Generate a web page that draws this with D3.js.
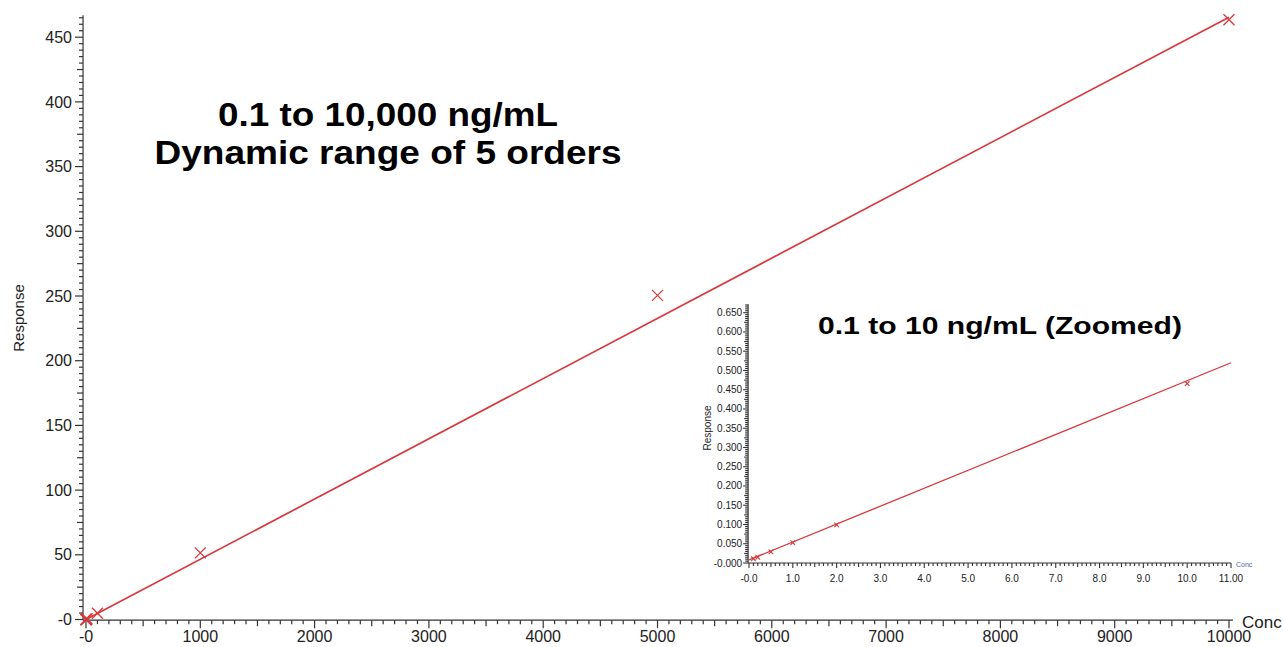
<!DOCTYPE html>
<html>
<head>
<meta charset="utf-8">
<script src="https://cdn.jsdelivr.net/npm/d3@7"></script>
<style>
  html, body { margin: 0; padding: 0; background: #fff; }
  svg { display: block; font-family: "Liberation Sans", Arial, Helvetica, sans-serif; }
</style>
</head>
<body>
<svg id="chart" width="1283" height="647"></svg>
<script>
// ---- data ----
const conc = [0.1, 0.2, 0.5, 1, 2, 10, 100, 1000, 5000, 10000];
const response = [0.011, 0.015, 0.029, 0.053, 0.099, 0.466, 4.8, 51.5, 250.5, 463.5];
const mainFitConc = [0, 10000];
const mainFitResp = [0.008, 465.5];
const insetFitConc = [0, 11];
const insetFitResp = [0.008, 0.520];
const mainXTicks = [0, 1000, 2000, 3000, 4000, 5000, 6000, 7000, 8000, 9000, 10000];
const mainXLabels = ["-0", "1000", "2000", "3000", "4000", "5000", "6000", "7000", "8000", "9000", "10000"];
const mainYTicks = [0, 50, 100, 150, 200, 250, 300, 350, 400, 450];
const mainYLabels = ["-0", "50", "100", "150", "200", "250", "300", "350", "400", "450"];
const insetXTicks = [0, 1, 2, 3, 4, 5, 6, 7, 8, 9, 10, 11];
const insetXLabels = ["-0.0", "1.0", "2.0", "3.0", "4.0", "5.0", "6.0", "7.0", "8.0", "9.0", "10.0", "11.00"];
const insetYTicks = [0, 0.05, 0.1, 0.15, 0.2, 0.25, 0.3, 0.35, 0.4, 0.45, 0.5, 0.55, 0.6, 0.65];
const insetYLabels = ["-0.000", "0.050", "0.100", "0.150", "0.200", "0.250", "0.300", "0.350", "0.400", "0.450", "0.500", "0.550", "0.600", "0.650"];
const mainTitle = ["0.1 to 10,000 ng/mL", "Dynamic range of 5 orders"];
const insetTitle = "0.1 to 10 ng/mL (Zoomed)";

const RED = "#d8373c";
const AX = "#333";
const TXT = "#222";
const svg = d3.select("#chart");

function drawAxes(g, x, y, xr, yr, opt) {
  g.append("line").attr("x1", x(xr[0])).attr("x2", x(xr[1]))
    .attr("y1", y(yr[0])).attr("y2", y(yr[0])).attr("stroke", AX).attr("stroke-width", opt.sw);
  g.append("line").attr("x1", x(xr[0])).attr("x2", x(xr[0]))
    .attr("y1", y(yr[0])).attr("y2", y(yr[1])).attr("stroke", AX).attr("stroke-width", opt.sw);
  const xm = d3.range(0, opt.xMax + 1e-9, opt.xMinor);
  g.selectAll(null).data(xm).join("line")
    .attr("x1", d => x(d)).attr("x2", d => x(d))
    .attr("y1", y(yr[0]))
    .attr("y2", d => {
      const r = d / opt.xMajor; const rm = d / opt.xMid;
      if (Math.abs(r - Math.round(r)) < 1e-6) return y(yr[0]) + opt.tMajor;
      if (Math.abs(rm - Math.round(rm)) < 1e-6) return y(yr[0]) + opt.tMid;
      return y(yr[0]) + opt.tMinor;
    })
    .attr("stroke", AX).attr("stroke-width", opt.sw);
  const ym = d3.range(0, opt.yMax + 1e-9, opt.yMinor);
  g.selectAll(null).data(ym).join("line")
    .attr("y1", d => y(d)).attr("y2", d => y(d))
    .attr("x1", x(xr[0]))
    .attr("x2", d => {
      const r = d / opt.yMajor; const rm = d / opt.yMid;
      if (Math.abs(r - Math.round(r)) < 1e-6) return x(xr[0]) - opt.tMajor;
      if (Math.abs(rm - Math.round(rm)) < 1e-6) return x(xr[0]) - opt.tMid;
      return x(xr[0]) - opt.tMinor;
    })
    .attr("stroke", AX).attr("stroke-width", opt.sw);
  g.selectAll(null).data(opt.xTicks).join("text")
    .attr("x", d => x(d)).attr("y", y(yr[0]) + opt.xLabelDy)
    .attr("text-anchor", "middle").attr("font-size", opt.fs).attr("fill", TXT)
    .text((d, i) => opt.xLabels[i]);
  g.selectAll(null).data(opt.yTicks).join("text")
    .attr("x", x(xr[0]) - opt.yLabelDx).attr("y", d => y(d))
    .attr("dy", "0.35em")
    .attr("text-anchor", "end").attr("font-size", opt.fs).attr("fill", TXT)
    .text((d, i) => opt.yLabels[i]);
}

function xMark(g, cx, cy, r, sw) {
  g.append("path")
    .attr("d", `M${cx - r},${cy - r}L${cx + r},${cy + r}M${cx - r},${cy + r}L${cx + r},${cy - r}`)
    .attr("stroke", RED).attr("stroke-width", sw).attr("fill", "none");
}

// ---- main chart ----
const x = d3.scaleLinear().domain([0, 10000]).range([86, 1229]);
const y = d3.scaleLinear().domain([0, 450]).range([619.5, 37.2]);
const gm = svg.append("g");
drawAxes(gm, x, y, [-26, 10035], [-0.5, 467], {
  sw: 1.2, xMax: 10000, xMinor: 100, xMid: 500, xMajor: 1000,
  yMax: 465, yMinor: 5, yMid: 25, yMajor: 50,
  tMajor: 8, tMid: 6, tMinor: 4, fs: 16,
  xTicks: mainXTicks, xLabels: mainXLabels, yTicks: mainYTicks, yLabels: mainYLabels,
  xLabelDy: 22, yLabelDx: 11
});
gm.append("text").attr("x", 1242).attr("y", 628).attr("font-size", 17).attr("fill", TXT).text("Conc");
gm.append("text").attr("transform", "translate(24,318) rotate(-90)").attr("text-anchor", "middle")
  .attr("font-size", 15).attr("fill", TXT).text("Response");

gm.append("path")
  .datum(mainFitConc.map((c, i) => [c, mainFitResp[i]]))
  .attr("d", d3.line().x(d => x(d[0])).y(d => y(d[1])))
  .attr("stroke", RED).attr("stroke-width", 1.7).attr("fill", "none");
conc.forEach((c, i) => xMark(gm, x(c), y(response[i]), 5.5, 1.3));

const titleWidths = [340, 467];
gm.selectAll(null).data(mainTitle).join("text")
  .attr("x", 388).attr("y", (d, i) => 126 + i * 38)
  .attr("text-anchor", "middle").attr("font-size", 33).attr("font-weight", "bold").attr("fill", "#000")
  .attr("textLength", (d, i) => titleWidths[i]).attr("lengthAdjust", "spacingAndGlyphs")
  .text(d => d);

// ---- inset chart ----
const xi = d3.scaleLinear().domain([0, 11]).range([749, 1231]);
const yi = d3.scaleLinear().domain([0, 0.65]).range([563, 312.7]);
const gi = svg.append("g");
drawAxes(gi, xi, yi, [-0.02, 11], [0, 0.672], {
  sw: 1.1, xMax: 11, xMinor: 0.1, xMid: 0.5, xMajor: 1,
  yMax: 0.67, yMinor: 0.005, yMid: 0.025, yMajor: 0.05,
  tMajor: 5, tMid: 4, tMinor: 3, fs: 10,
  xTicks: insetXTicks, xLabels: insetXLabels, yTicks: insetYTicks, yLabels: insetYLabels,
  xLabelDy: 19, yLabelDx: 6
});
gi.append("text").attr("x", 1236).attr("y", 567).attr("font-size", 7).attr("fill", "#4a6a9a").text("Conc");
gi.append("text").attr("transform", "translate(711,428) rotate(-90)").attr("text-anchor", "middle")
  .attr("font-size", 10).attr("fill", TXT).text("Response");
gi.append("path")
  .datum(insetFitConc.map((c, i) => [c, insetFitResp[i]]))
  .attr("d", d3.line().x(d => xi(d[0])).y(d => yi(d[1])))
  .attr("stroke", RED).attr("stroke-width", 1.3).attr("fill", "none");
conc.forEach((c, i) => { if (c <= 11) xMark(gi, xi(c), yi(response[i]), 2.3, 1.1); });
gi.append("text").attr("x", 1000).attr("y", 334)
  .attr("text-anchor", "middle").attr("font-size", 24).attr("font-weight", "bold").attr("fill", "#000")
  .attr("textLength", 364).attr("lengthAdjust", "spacingAndGlyphs")
  .text(insetTitle);
</script>
</body>
</html>
